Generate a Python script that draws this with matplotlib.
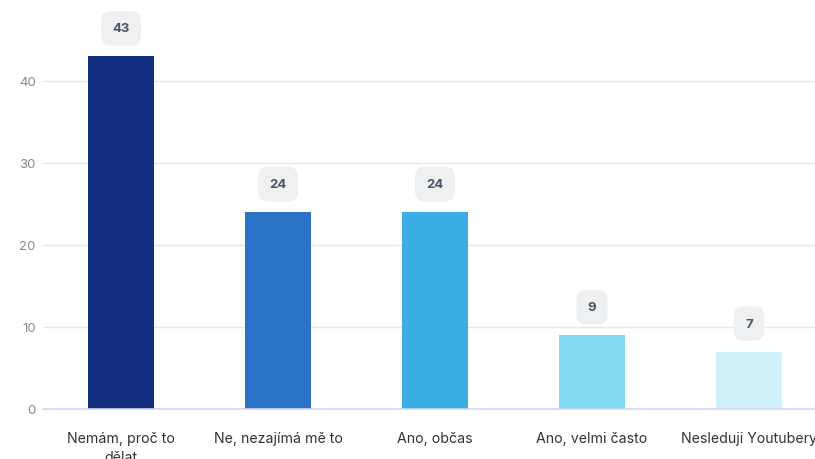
import matplotlib
matplotlib.use("Agg")
import matplotlib.pyplot as plt

categories = ["Nemám, proč to\ndělat", "Ne, nezajímá mě to", "Ano, občas", "Ano, velmi často", "Nesleduji Youtubery"]
values = [43, 24, 24, 9, 7]
colors = ["#122f80", "#2b71c5", "#3baee6", "#80d8f2", "#cff1fa"]
yticks = [0, 10, 20, 30, 40]

plt.rcParams['font.family'] = ['Inter', 'DejaVu Sans']

W, H = 815, 460
fig = plt.figure(figsize=(W / 100, H / 100), dpi=100)
left_px, right_px, bottom_px, top_px = 42.5, 827.5, 410, 0
ax = fig.add_axes([left_px / W, (H - bottom_px) / H, (right_px - left_px) / W, (bottom_px - top_px) / H])

x = list(range(len(categories)))
ax.bar(x, values, width=0.42, color=colors, zorder=3)
ax.set_xlim(-0.5, len(categories) - 0.5)
ax.set_ylim(0, 50)
ax.set_yticks(yticks)
ax.set_yticklabels([str(t) for t in yticks], color="#8a8a8a", fontsize=9.5)
ax.set_xticks(x)
ax.set_xticklabels(categories, color="#333333", fontsize=10.2, linespacing=1.4)
ax.tick_params(axis='both', length=0)
ax.tick_params(axis='x', pad=16)
ax.tick_params(axis='y', pad=5)
ax.grid(axis='y', color="#e6e7eb", linewidth=1, zorder=0)
for s in ['top', 'right', 'left']:
    ax.spines[s].set_visible(False)
ax.spines['bottom'].set_color("#d3d8ee")
ax.spines['bottom'].set_linewidth(1.2)
ax.spines['bottom'].set_zorder(4)

for xi, v in zip(x, values):
    ax.annotate(str(v), xy=(xi, v), xytext=(0, 28), textcoords='offset pixels',
                ha='center', va='center', fontsize=9.5, fontweight='bold', color="#4a5568",
                bbox=dict(boxstyle="round,pad=0.85,rounding_size=0.7", fc="#eef0f1", ec="none"),
                zorder=5)

fig.savefig("out.png", dpi=100)
